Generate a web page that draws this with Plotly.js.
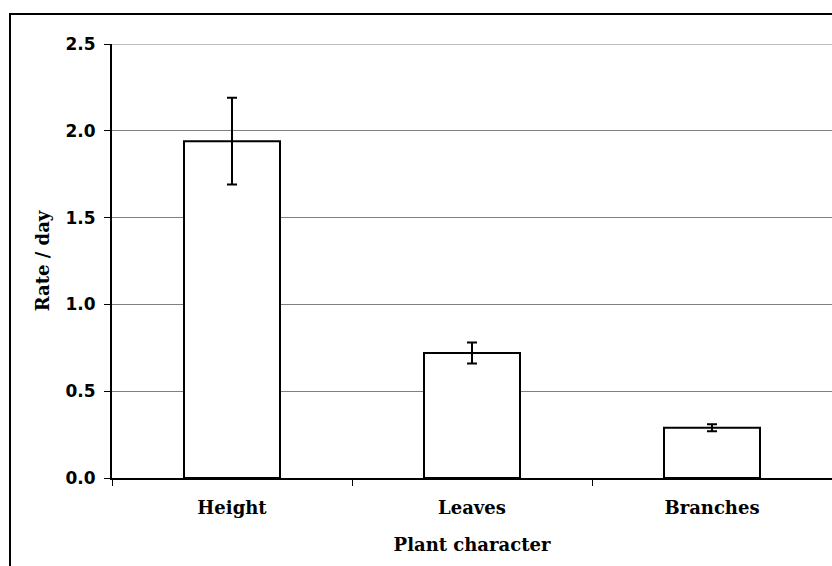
<!DOCTYPE html>
<html>
<head>
<meta charset="utf-8">
<script src="https://cdn.plot.ly/plotly-3.0.1.min.js"></script>
<style>html,body{margin:0;padding:0;background:#fff;}#chart{width:832px;height:566px;}</style>
</head>
<body>
<div id="chart"></div>
<script>
var categories = ["Height", "Leaves", "Branches"];
var rates = [1.94, 0.72, 0.29];
var errors = [0.25, 0.06, 0.02];
var yTicks = [0, 0.5, 1.0, 1.5, 2.0, 2.5];
var yTickLabels = ["0.0", "0.5", "1.0", "1.5", "2.0", "2.5"];

var serif = "DejaVu Serif, Liberation Serif, serif";
var yMax = yTicks[yTicks.length - 1];

var trace = {
  type: "bar",
  x: categories,
  y: rates,
  width: 0.4,
  marker: {color: "#ffffff", line: {color: "#000000", width: 2}},
  error_y: {type: "data", array: errors, visible: true, color: "#000000", thickness: 2, width: 5},
  hoverinfo: "none"
};

var layout = {
  width: 832, height: 566,
  margin: {l: 112, r: 0, t: 44, b: 88},
  paper_bgcolor: "#ffffff",
  plot_bgcolor: "#ffffff",
  showlegend: false,
  font: {family: serif, color: "#000000"},
  xaxis: {
    type: "category",
    range: [-0.5, 2.5],
    showline: true, linecolor: "#000000", linewidth: 2,
    ticks: "outside", tickson: "boundaries", ticklen: 6, tickwidth: 1, tickcolor: "#000000",
    showgrid: false,
    ticklabelstandoff: 12,
    tickfont: {family: serif, size: 18, color: "#000000", weight: "bold"},
    title: {text: "<b>Plant character</b>", font: {family: serif, size: 18, color: "#000000"}, standoff: 22}
  },
  yaxis: {
    range: [0, yMax],
    tickvals: yTicks, ticktext: yTickLabels,
    showline: true, linecolor: "#000000", linewidth: 2,
    ticks: "outside", ticklen: 6, tickwidth: 1, tickcolor: "#000000",
    showgrid: true, gridcolor: "#808080", gridwidth: 1,
    zeroline: false,
    ticklabelstandoff: 5,
    tickfont: {family: "DejaVu Sans, Liberation Sans, sans-serif", size: 17, color: "#000000", weight: "bold"},
    title: {text: "<b>Rate / day</b>", font: {family: serif, size: 18, color: "#000000"}, standoff: 11}
  },
  shapes: [{
    type: "line", xref: "paper", yref: "y",
    x0: 0, x1: 1, y0: yMax, y1: yMax,
    line: {color: "#808080", width: 1}, layer: "below"
  }, {
    type: "rect", xref: "paper", yref: "paper",
    x0: (10 - 112) / 720, x1: 1.2,
    y0: -0.5, y1: (478 - 14) / 434,
    line: {color: "#000000", width: 2}, fillcolor: "rgba(0,0,0,0)", layer: "above"
  }]
};

Plotly.newPlot("chart", [trace], layout, {staticPlot: true, displayModeBar: false});
</script>
</body>
</html>
